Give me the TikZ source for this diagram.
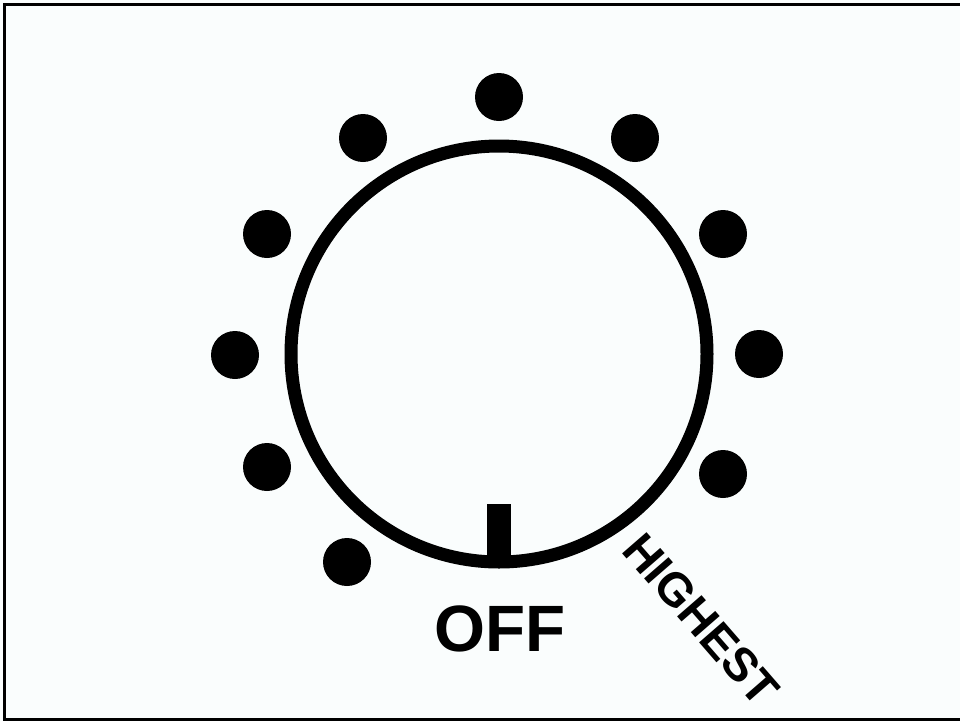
\documentclass[tikz,border=0pt]{standalone}
\usepackage{fontspec}
\setmainfont{Liberation Sans}
\definecolor{bgtint}{RGB}{250,253,253}
\begin{document}
\begin{tikzpicture}[x=0.02cm, y=-0.02cm, line join=miter]
			\useasboundingbox (0,0) rectangle (960,721);
			% nen + khung
			\fill[bgtint] (0,0) rectangle (960,721);
			\draw[line width=0.06cm] (4.5,4.5) rectangle (966,719.5);

			% nut van
			\coordinate (ctr) at (499,354);
			\draw[line width=0.26cm] (ctr) circle (208);
			\fill (487,504) rectangle (511,560);
			\coordinate (tick_top) at (499,504);

			% cac muc
			\foreach \x/\y in {499/97, 363/138, 635/138, 267/234, 723/234, 235/355, 759/354, 267/467, 723/474, 347/562} {
				\fill (\x,\y) circle (24);
			}

			% nhan
			\node (off) [anchor=base, inner sep=0pt, font=\bfseries\fontsize{37.3}{40}\selectfont] at (500,651) {OFF};
			\node (highest) [anchor=base west, rotate=-49, inner sep=0pt, font=\bfseries\fontsize{26.8}{30}\selectfont] at (620,551) {HIGHEST};
		\end{tikzpicture}
\end{document}
